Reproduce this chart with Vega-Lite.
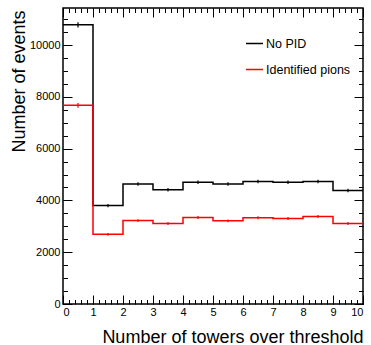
{
  "$schema": "https://vega.github.io/schema/vega-lite/v6.json",
  "width": 300,
  "height": 296,
  "autosize": {"type": "none"},
  "padding": {"left": 63, "top": 8, "right": 8, "bottom": 41},
  "datasets": {
    "steps": [
      {"series": "No PID", "edge": 0, "count": 10780},
      {"series": "No PID", "edge": 1, "count": 3800},
      {"series": "No PID", "edge": 2, "count": 4630},
      {"series": "No PID", "edge": 3, "count": 4410},
      {"series": "No PID", "edge": 4, "count": 4700},
      {"series": "No PID", "edge": 5, "count": 4630},
      {"series": "No PID", "edge": 6, "count": 4730},
      {"series": "No PID", "edge": 7, "count": 4700},
      {"series": "No PID", "edge": 8, "count": 4730},
      {"series": "No PID", "edge": 9, "count": 4380},
      {"series": "No PID", "edge": 10, "count": 4380},
      {"series": "Identified pions", "edge": 0, "count": 7670},
      {"series": "Identified pions", "edge": 1, "count": 2690},
      {"series": "Identified pions", "edge": 2, "count": 3220},
      {"series": "Identified pions", "edge": 3, "count": 3110},
      {"series": "Identified pions", "edge": 4, "count": 3340},
      {"series": "Identified pions", "edge": 5, "count": 3210},
      {"series": "Identified pions", "edge": 6, "count": 3330},
      {"series": "Identified pions", "edge": 7, "count": 3300},
      {"series": "Identified pions", "edge": 8, "count": 3380},
      {"series": "Identified pions", "edge": 9, "count": 3110},
      {"series": "Identified pions", "edge": 10, "count": 3110}
    ],
    "errs": [
      {"series": "No PID", "center": 0.5, "lo": 10676, "hi": 10884},
      {"series": "No PID", "center": 1.5, "lo": 3738, "hi": 3862},
      {"series": "No PID", "center": 2.5, "lo": 4562, "hi": 4698},
      {"series": "No PID", "center": 3.5, "lo": 4344, "hi": 4476},
      {"series": "No PID", "center": 4.5, "lo": 4631, "hi": 4769},
      {"series": "No PID", "center": 5.5, "lo": 4562, "hi": 4698},
      {"series": "No PID", "center": 6.5, "lo": 4661, "hi": 4799},
      {"series": "No PID", "center": 7.5, "lo": 4631, "hi": 4769},
      {"series": "No PID", "center": 8.5, "lo": 4661, "hi": 4799},
      {"series": "No PID", "center": 9.5, "lo": 4314, "hi": 4446},
      {"series": "Identified pions", "center": 0.5, "lo": 7582, "hi": 7758},
      {"series": "Identified pions", "center": 1.5, "lo": 2638, "hi": 2742},
      {"series": "Identified pions", "center": 2.5, "lo": 3163, "hi": 3277},
      {"series": "Identified pions", "center": 3.5, "lo": 3054, "hi": 3166},
      {"series": "Identified pions", "center": 4.5, "lo": 3282, "hi": 3398},
      {"series": "Identified pions", "center": 5.5, "lo": 3153, "hi": 3267},
      {"series": "Identified pions", "center": 6.5, "lo": 3272, "hi": 3388},
      {"series": "Identified pions", "center": 7.5, "lo": 3243, "hi": 3357},
      {"series": "Identified pions", "center": 8.5, "lo": 3322, "hi": 3438},
      {"series": "Identified pions", "center": 9.5, "lo": 3054, "hi": 3166}
    ]
  },
  "config": {
    "font": "Liberation Sans",
    "view": {"stroke": "black", "strokeWidth": 1.5},
    "axis": {"grid": false, "domain": false, "tickColor": "black", "tickWidth": 1, "labelColor": "black", "labelFontSize": 11}
  },
  "resolve": {"axis": {"x": "independent", "y": "independent"}},
  "layer": [
    {
      "data": {"name": "steps"},
      "transform": [{"filter": "datum.series === 'No PID'"}],
      "mark": {"type": "line", "interpolate": "step-after", "strokeWidth": 1.5},
      "encoding": {
        "x": {
          "field": "edge", "type": "quantitative",
          "scale": {"domain": [0, 10]},
          "axis": {
            "orient": "bottom",
            "values": [0, 1, 2, 3, 4, 5, 6, 7, 8, 9, 10],
            "format": "d",
            "offset": -9,
            "tickSize": 9,
            "labelPadding": 2,
            "title": "Number of towers over threshold",
            "titleFont": "Liberation Sans",
            "titleFontSize": 18,
            "titleFontWeight": "normal",
            "titleColor": "black",
            "titleX": 300,
            "titleY": 47,
            "titleAlign": "right",
            "titleAnchor": "end",
            "titleBaseline": "alphabetic"
          }
        },
        "y": {
          "field": "count", "type": "quantitative",
          "scale": {"domain": [0, 11430]},
          "axis": {
            "orient": "left",
            "values": [0, 2000, 4000, 6000, 8000, 10000],
            "format": "d",
            "offset": -9,
            "tickSize": 9,
            "labelPadding": 3,
            "title": "Number of events",
            "titleFont": "Liberation Sans",
            "titleFontSize": 18,
            "titleFontWeight": "normal",
            "titleColor": "black",
            "titleX": -48,
            "titleY": 2,
            "titleAngle": 270,
            "titleAlign": "right",
            "titleBaseline": "alphabetic"
          }
        },
        "color": {
          "field": "series", "type": "nominal",
          "scale": {"domain": ["No PID", "Identified pions"], "range": ["black", "red"]},
          "legend": {
            "orient": "none",
            "legendX": 182,
            "legendY": 26,
            "padding": 0,
            "title": null,
            "symbolType": "stroke",
            "symbolSize": 289,
            "symbolStrokeWidth": 1.5,
            "labelFontSize": 12.5,
            "labelFont": "Liberation Sans",
            "labelColor": "black",
            "labelOffset": 2,
            "rowPadding": 10
          }
        }
      }
    },
    {
      "data": {"name": "steps"},
      "transform": [{"filter": "datum.series === 'Identified pions'"}],
      "mark": {"type": "line", "interpolate": "step-after", "strokeWidth": 1.5},
      "encoding": {
        "x": {
          "field": "edge", "type": "quantitative",
          "scale": {"domain": [0, 10]},
          "axis": {
            "orient": "bottom",
            "values": [0, 0.2, 0.4, 0.6, 0.8, 1, 1.2, 1.4, 1.6, 1.8, 2, 2.2, 2.4, 2.6, 2.8, 3, 3.2, 3.4, 3.6, 3.8, 4, 4.2, 4.4, 4.6, 4.8, 5, 5.2, 5.4, 5.6, 5.8, 6, 6.2, 6.4, 6.6, 6.8, 7, 7.2, 7.4, 7.6, 7.8, 8, 8.2, 8.4, 8.6, 8.8, 9, 9.2, 9.4, 9.6, 9.8, 10],
            "offset": -4.5,
            "tickSize": 4.5,
            "labels": false,
            "title": null
          }
        },
        "y": {
          "field": "count", "type": "quantitative",
          "scale": {"domain": [0, 11430]},
          "axis": {
            "orient": "left",
            "values": [0, 500, 1000, 1500, 2000, 2500, 3000, 3500, 4000, 4500, 5000, 5500, 6000, 6500, 7000, 7500, 8000, 8500, 9000, 9500, 10000, 10500, 11000],
            "offset": -4.5,
            "tickSize": 4.5,
            "labels": false,
            "title": null
          }
        },
        "color": {"field": "series", "type": "nominal", "legend": null}
      }
    },
    {
      "data": {"name": "errs"},
      "transform": [{"filter": "datum.series === 'No PID'"}],
      "mark": {"type": "rule", "strokeWidth": 1.2},
      "encoding": {
        "x": {
          "field": "center", "type": "quantitative",
          "scale": {"domain": [0, 10]},
          "axis": {
            "orient": "top",
            "values": [0, 1, 2, 3, 4, 5, 6, 7, 8, 9, 10],
            "offset": -9,
            "tickSize": 9,
            "labels": false,
            "title": null
          }
        },
        "y": {
          "field": "lo", "type": "quantitative",
          "scale": {"domain": [0, 11430]},
          "axis": {
            "orient": "right",
            "values": [0, 2000, 4000, 6000, 8000, 10000],
            "offset": -9,
            "tickSize": 9,
            "labels": false,
            "title": null
          }
        },
        "y2": {"field": "hi"},
        "color": {"field": "series", "type": "nominal", "legend": null}
      }
    },
    {
      "data": {"name": "errs"},
      "transform": [{"filter": "datum.series === 'Identified pions'"}],
      "mark": {"type": "rule", "strokeWidth": 1.2},
      "encoding": {
        "x": {
          "field": "center", "type": "quantitative",
          "scale": {"domain": [0, 10]},
          "axis": {
            "orient": "top",
            "values": [0, 0.2, 0.4, 0.6, 0.8, 1, 1.2, 1.4, 1.6, 1.8, 2, 2.2, 2.4, 2.6, 2.8, 3, 3.2, 3.4, 3.6, 3.8, 4, 4.2, 4.4, 4.6, 4.8, 5, 5.2, 5.4, 5.6, 5.8, 6, 6.2, 6.4, 6.6, 6.8, 7, 7.2, 7.4, 7.6, 7.8, 8, 8.2, 8.4, 8.6, 8.8, 9, 9.2, 9.4, 9.6, 9.8, 10],
            "offset": -4.5,
            "tickSize": 4.5,
            "labels": false,
            "title": null
          }
        },
        "y": {
          "field": "lo", "type": "quantitative",
          "scale": {"domain": [0, 11430]},
          "axis": {
            "orient": "right",
            "values": [0, 500, 1000, 1500, 2000, 2500, 3000, 3500, 4000, 4500, 5000, 5500, 6000, 6500, 7000, 7500, 8000, 8500, 9000, 9500, 10000, 10500, 11000],
            "offset": -4.5,
            "tickSize": 4.5,
            "labels": false,
            "title": null
          }
        },
        "y2": {"field": "hi"},
        "color": {"field": "series", "type": "nominal", "legend": null}
      }
    }
  ]
}
